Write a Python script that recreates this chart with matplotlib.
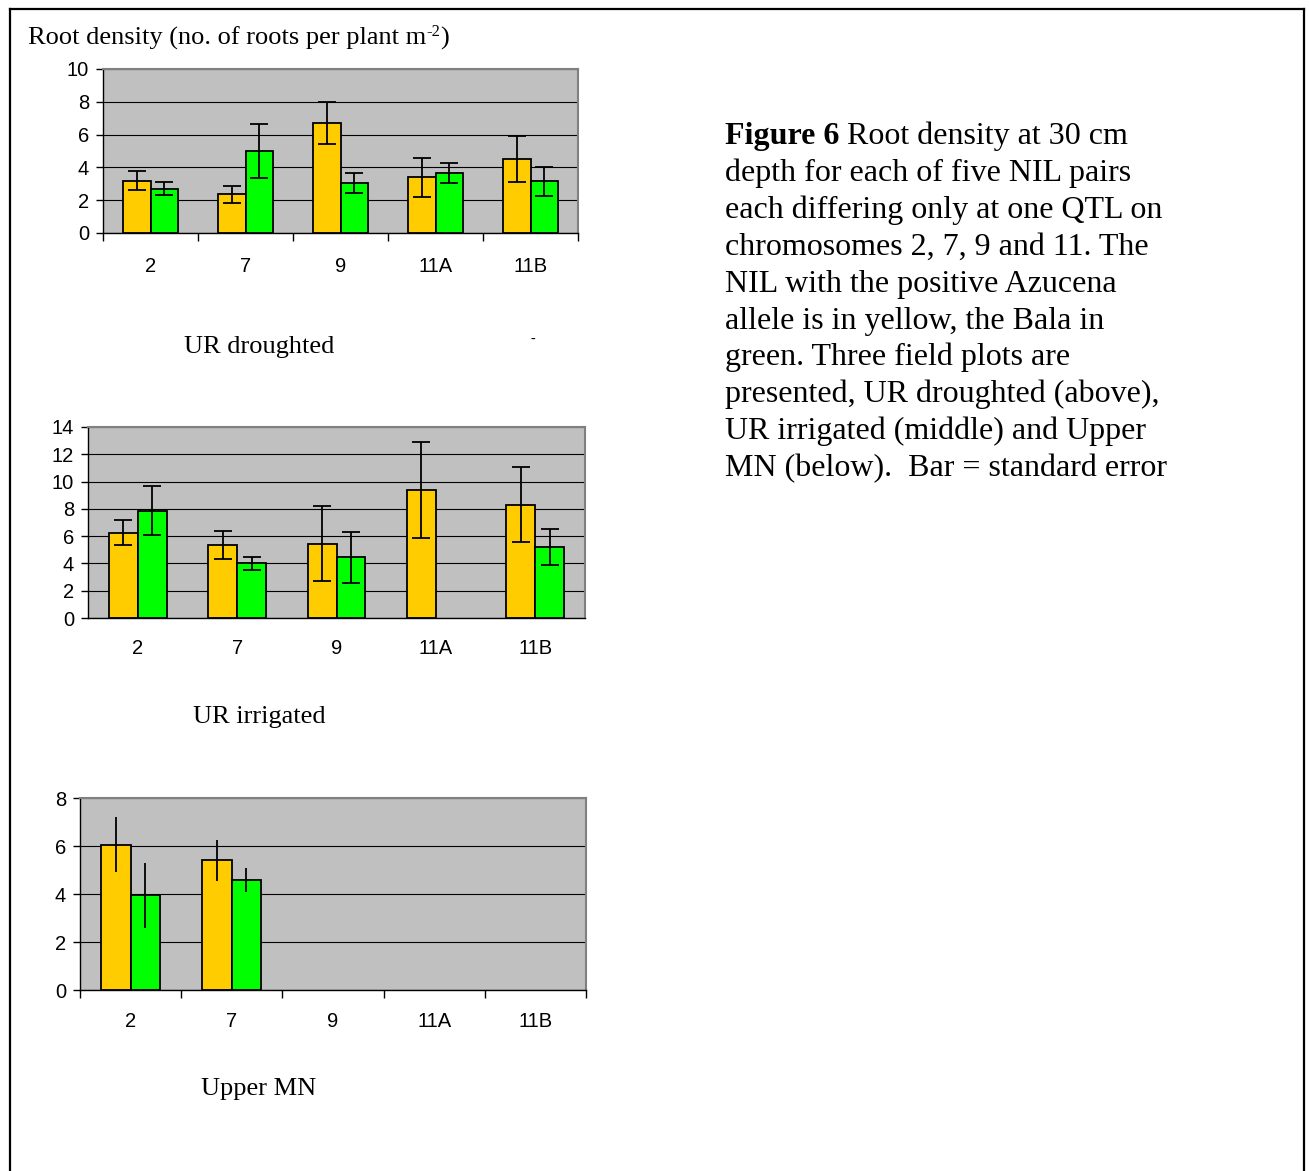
import numpy as np
import matplotlib
matplotlib.use("Agg")
import matplotlib.pyplot as plt
from matplotlib.lines import Line2D

plt.rcParams["font.family"] = ["Liberation Sans", "DejaVu Sans"]

categories = ["2", "7", "9", "11A", "11B"]

# UR droughted
drought_azucena = [3.2, 2.35, 6.7, 3.4, 4.5]
drought_azucena_se = [0.6, 0.5, 1.3, 1.2, 1.4]
drought_bala = [2.7, 5.0, 3.05, 3.65, 3.15]
drought_bala_se = [0.4, 1.65, 0.6, 0.6, 0.9]

# UR irrigated (no Bala value for 11A)
irrig_azucena = [6.25, 5.35, 5.45, 9.4, 8.3]
irrig_azucena_se = [0.9, 1.0, 2.75, 3.5, 2.75]
irrig_bala = [7.85, 4.0, 4.45, np.nan, 5.2]
irrig_bala_se = [1.8, 0.5, 1.85, np.nan, 1.35]

# Upper MN (only chromosomes 2 and 7 measured)
upper_azucena = [6.05, 5.4, np.nan, np.nan, np.nan]
upper_azucena_se = [1.15, 0.85, np.nan, np.nan, np.nan]
upper_bala = [3.95, 4.6, np.nan, np.nan, np.nan]
upper_bala_se = [1.35, 0.5, np.nan, np.nan, np.nan]

caption_lines = [
    "depth for each of five NIL pairs",
    "each differing only at one QTL on",
    "chromosomes 2, 7, 9 and 11. The",
    "NIL with the positive Azucena",
    "allele is in yellow, the Bala in",
    "green. Three field plots are",
    "presented, UR droughted (above),",
    "UR irrigated (middle) and Upper",
    "MN (below).  Bar = standard error",
]

W, H = 1309, 1171
fig = plt.figure(figsize=(W / 100, H / 100), dpi=100)


def px_axes(left, top, right, bottom):
    return fig.add_axes([left / W, 1 - bottom / H, (right - left) / W, (bottom - top) / H])


def panel(ax, yellow, yellow_se, green, green_se, ymax, capsize, xticks, xpad):
    x = np.arange(len(categories))
    w = 0.29
    ax.set_facecolor("#C0C0C0")
    ax.set_axisbelow(True)
    ax.yaxis.grid(True, color="black", linewidth=0.8)
    ax.bar(x - w / 2, yellow, w, color="#FFCC00", edgecolor="black", linewidth=1.3, zorder=2)
    ax.bar(x + w / 2, green, w, color="#00FF00", edgecolor="black", linewidth=1.3, zorder=2)
    ax.errorbar(x - w / 2, yellow, yerr=yellow_se, fmt="none", ecolor="black",
                elinewidth=1.3, capsize=capsize, capthick=1.3, zorder=3)
    ax.errorbar(x + w / 2, green, yerr=green_se, fmt="none", ecolor="black",
                elinewidth=1.3, capsize=capsize, capthick=1.3, zorder=3)
    ax.set_xlim(-0.5, len(categories) - 0.5)
    ax.set_ylim(0, ymax)
    ax.set_yticks(np.arange(0, ymax + 1, 2))
    ax.set_xticks(x)
    ax.set_xticklabels(categories)
    if xticks:
        ax.set_xticks(np.arange(-0.5, len(categories)), minor=True)
        ax.tick_params(axis="x", which="minor", length=6, width=1, direction="out")
    ax.tick_params(axis="x", which="major", length=0, pad=xpad, labelsize=14.5)
    ax.tick_params(axis="y", length=5, width=1, pad=5, labelsize=14.5)
    for s in ["left", "bottom"]:
        ax.spines[s].set_color("black")
        ax.spines[s].set_linewidth(1)
    for s in ["top", "right"]:
        ax.spines[s].set_color("#808080")
        ax.spines[s].set_linewidth(1.5)


ax1 = px_axes(103, 69, 578, 233)
panel(ax1, drought_azucena, drought_azucena_se, drought_bala, drought_bala_se, 10, 6.5, True, 17)

ax2 = px_axes(88, 427, 585, 618)
panel(ax2, irrig_azucena, irrig_azucena_se, irrig_bala, irrig_bala_se, 14, 6.5, False, 15)

ax3 = px_axes(80, 798, 586, 990)
panel(ax3, upper_azucena, upper_azucena_se, upper_bala, upper_bala_se, 8, 0, True, 16)

serif = "Liberation Serif"


def ftext(xp, yp, s, **kw):
    return fig.text(xp / W, 1 - yp / H, s, family=serif, va="baseline", **kw)


def right_edge(t):
    fig.canvas.draw()
    return t.get_window_extent().x1


# y-axis title with a raised "-2" exponent
t = ftext(28, 45, "Root density (no. of roots per plant m", fontsize=19)
x_end = right_edge(t)
t = fig.text(x_end / W, 1 - 36 / H, "-2", family=serif, va="baseline", fontsize=12)
x_end = right_edge(t)
fig.text(x_end / W, 1 - 45 / H, ")", family=serif, va="baseline", fontsize=19)

ftext(259, 353, "UR droughted", fontsize=19, ha="center")
ftext(533, 343, "-", fontsize=10, ha="center")
ftext(259, 723, "UR irrigated", fontsize=19, ha="center")
ftext(259, 1095, "Upper MN", fontsize=19, ha="center")

# caption, first line starts with a bold label
cap_size = 23.0
base = 144
step = 36.9
bold = ftext(725, base, "Figure 6", fontsize=cap_size, weight="bold")
ftext(right_edge(bold), base, " Root density at 30 cm", fontsize=cap_size)
for i, line in enumerate(caption_lines, start=1):
    ftext(725, base + i * step, line, fontsize=cap_size)

# page frame (open at the bottom)
for xs, ys in [([10, 10], [9, H]), ([10, 1304], [9, 9]), ([1304, 1304], [9, H])]:
    fig.add_artist(Line2D([v / W for v in xs], [1 - v / H for v in ys],
                          color="black", linewidth=1.6, transform=fig.transFigure))

fig.savefig("out.png", dpi=100)
